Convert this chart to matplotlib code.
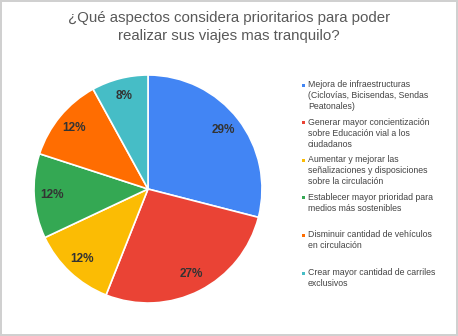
import matplotlib
matplotlib.use("Agg")
import matplotlib.pyplot as plt
from matplotlib.patches import Rectangle

plt.rcParams['font.family'] = ['Liberation Sans', 'DejaVu Sans']

title = "¿Qué aspectos considera prioritarios para poder\nrealizar sus viajes mas tranquilo?"
categories = [
    "Mejora de infraestructuras\n(Ciclovías, Bicisendas, Sendas\nPeatonales)",
    "Generar mayor concientización\nsobre Educación vial a los\nciudadanos",
    "Aumentar y mejorar las\nseñalizaciones y disposiciones\nsobre la circulación",
    "Establecer mayor prioridad para\nmedios más sostenibles",
    "Disminuir cantidad de vehículos\nen circulación",
    "Crear mayor cantidad de carriles\nexclusivos",
]
values = [29, 27, 12, 12, 12, 8]
colors = ["#4285F4", "#EA4335", "#FBBC04", "#34A853", "#FF6D01", "#46BDC6"]

W, H = 458, 336
fig = plt.figure(figsize=(W / 100, H / 100), dpi=100)
fig.patch.set_facecolor("white")
fig.patch.set_edgecolor("#d0d0d0")
fig.patch.set_linewidth(1.5)

# pie: centre (148, 189) px from top-left, radius 114 px
cx, cy, r = 148, 189, 114
ax = fig.add_axes([(cx - r) / W, (H - cy - r) / H, 2 * r / W, 2 * r / H])
wedges, texts, autotexts = ax.pie(
    values, colors=colors, startangle=90, counterclock=False,
    autopct=lambda p: f"{p:.0f}%", pctdistance=0.84,
    wedgeprops=dict(edgecolor="white", linewidth=1.2),
    textprops=dict(fontsize=8.5, fontweight="bold", color="#333333"),
)
ax.set_xlim(-1, 1)
ax.set_ylim(-1, 1)
ax.set_aspect("auto")
ax.axis("off")

fig.text(229 / W, 1 - 27 / H, title, ha="center", va="center",
         fontsize=10.8, color="#595959", linespacing=1.3)

# legend column
y0, step = 80, 37.6
for i, (lab, col) in enumerate(zip(categories, colors)):
    y = y0 + i * step
    fig.patches.append(Rectangle((302 / W, 1 - (y + 6.5) / H), 3 / W, 3 / H,
                                 transform=fig.transFigure, facecolor=col,
                                 edgecolor="none"))
    fig.text(308 / W, 1 - y / H, lab, ha="left", va="top", fontsize=6.3,
             color="#444444", linespacing=1.3)

fig.savefig("out.png", dpi=100)
